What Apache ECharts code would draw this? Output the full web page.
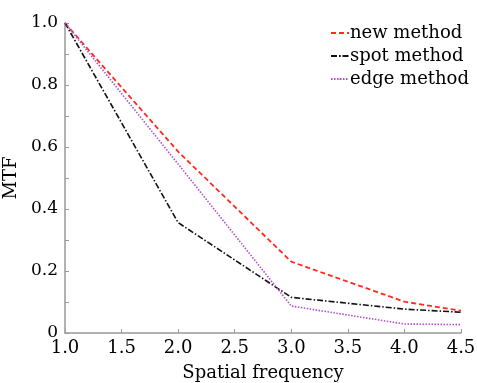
<!DOCTYPE html>
<html>
<head>
<meta charset="utf-8">
<script src="https://cdn.jsdelivr.net/npm/echarts@6/dist/echarts.min.js"></script>
<style>
  html, body { margin: 0; padding: 0; background: #fff; }
  #chart { width: 477px; height: 383px; }
</style>
</head>
<body>
<div id="chart"></div>
<script>
// MTF vs spatial frequency, three measurement methods
const freq = [1.0, 2.0, 3.0, 4.0, 4.5];
const newMethod = [1.0, 0.585, 0.23, 0.101, 0.072];
const spotMethod = [1.0, 0.356, 0.115, 0.077, 0.067];
const edgeMethod = [1.0, 0.545, 0.087, 0.029, 0.027];
const seriesNames = ["new method", "spot method", "edge method"];

const serif = "'DejaVu Serif', 'Liberation Serif', serif";
const pair = (ys) => freq.map((x, i) => [x, ys[i]]);

const chart = echarts.init(document.getElementById("chart"), null, { renderer: "canvas" });
chart.setOption({
  backgroundColor: "#fff",
  animation: false,
  grid: { left: 65, right: 16, top: 23, bottom: 50, outerBoundsMode: "none", containLabel: false },
  legend: {
    data: seriesNames,
    orient: "vertical",
    left: 330, top: 24, padding: 0,
    itemWidth: 18, itemHeight: 2, itemGap: 5,
    textStyle: { fontFamily: serif, fontSize: 18, color: "#000", padding: [0, 0, 0, -4] },
  },
  xAxis: {
    type: "value",
    min: 1, max: 4.5, interval: 0.5,
    name: "Spatial frequency",
    nameLocation: "middle", nameGap: 31,
    nameTextStyle: { fontFamily: serif, fontSize: 18, color: "#000" },
    axisLine: { lineStyle: { color: "#999", width: 1.5 } },
    axisTick: { inside: true, length: 4, lineStyle: { color: "#999" } },
    axisLabel: { fontFamily: serif, fontSize: 18, color: "#000", margin: 6,
                 formatter: (v) => v.toFixed(1) },
    splitLine: { show: false },
  },
  yAxis: {
    type: "value",
    min: 0, max: 1, interval: 0.2,
    name: "MTF",
    nameLocation: "middle", nameGap: 35,
    nameTextStyle: { fontFamily: serif, fontSize: 18, color: "#000" },
    axisLine: { show: true, lineStyle: { color: "#999", width: 1.5 } },
    axisTick: { show: true, inside: true, length: 4, lineStyle: { color: "#999" } },
    minorTick: { show: true, splitNumber: 2, length: 4, lineStyle: { color: "#999" } },
    axisLabel: { fontFamily: serif, fontSize: 17, color: "#000", margin: 7,
                 formatter: (v) => (v === 0 ? "0" : v.toFixed(1)) },
    splitLine: { show: false },
  },
  series: [
    {
      name: seriesNames[0], type: "line", symbol: "none", data: pair(newMethod),
      lineStyle: { color: "#ff2a20", width: 1.8, type: [5, 3] },
      itemStyle: { color: "#ff2a20" },
    },
    {
      name: seriesNames[1], type: "line", symbol: "none", data: pair(spotMethod),
      lineStyle: { color: "#111", width: 1.6, type: [6, 2, 1.5, 2] },
      itemStyle: { color: "#111" },
    },
    {
      name: seriesNames[2], type: "line", symbol: "none", data: pair(edgeMethod),
      lineStyle: { color: "#b050c8", width: 1.6, type: [1.5, 1.5] },
      itemStyle: { color: "#b050c8" },
    },
  ],
});
</script>
</body>
</html>
